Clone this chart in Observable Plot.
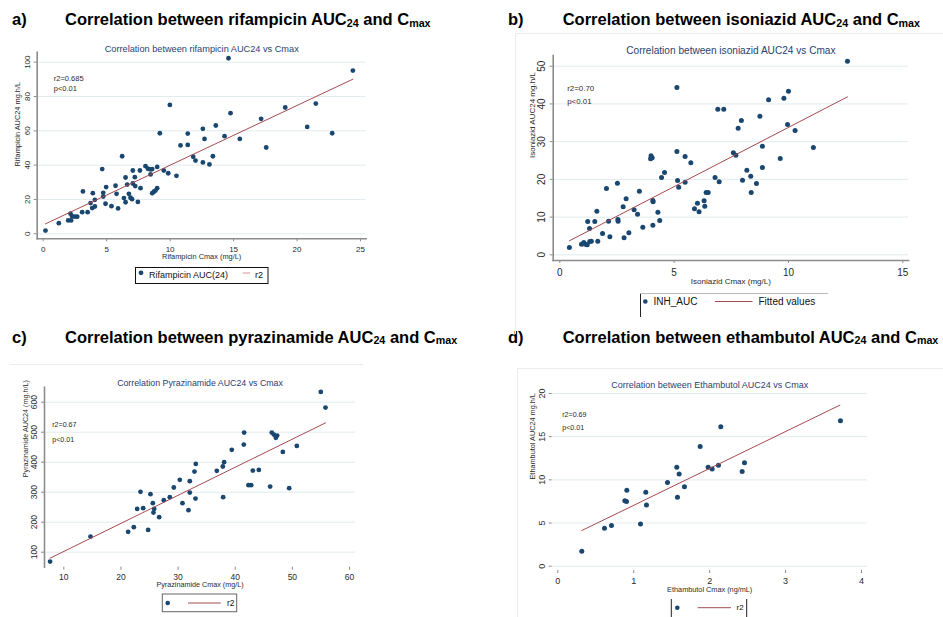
<!DOCTYPE html>
<html><head><meta charset="utf-8">
<script src="https://cdn.jsdelivr.net/npm/d3@7"></script>
<script src="https://cdn.jsdelivr.net/npm/@observablehq/plot@0.6"></script>
<style>
html,body{margin:0;padding:0;background:#fff;}
#root{position:relative;width:943px;height:617px;overflow:hidden;background:#fff;font-family:"Liberation Sans",Arial,Helvetica,sans-serif;}
.ttl{position:absolute;font-weight:bold;font-size:16.5px;line-height:1;white-space:nowrap;color:#000;}
.ttl sub{font-size:65%;vertical-align:baseline;position:relative;top:1.5px;}
.faint{position:absolute;border-color:#ececec;border-style:solid;border-width:0;}
</style></head>
<body><div id="root"></div>
<script>
// ---------- DATA ----------
// a) rifampicin
const rifCmax = [0.18,1.23,1.97,2.2,2.15,2.28,2.5,2.68,3.07,3.5,3.13,3.73,3.91,3.86,4.07,4.07,4.65,4.73,4.73,4.91,4.96,5.38,5.7,5.78,5.9,6.22,6.36,6.49,6.49,6.62,6.75,6.88,7.0,7.06,7.06,7.22,7.25,7.46,7.62,7.67,8.06,8.25,8.46,8.59,8.46,8.59,8.72,8.85,8.98,8.98,9.19,9.5,9.85,9.98,10.5,10.82,11.39,11.39,11.82,12.0,12.58,12.71,12.58,13.1,13.37,13.6,14.29,14.6,14.76,15.49,17.17,17.57,19.07,20.8,21.48,22.77,24.4];
const rifAuc = [1.9,6.2,7.8,7.8,11.7,10.1,10,10,12.6,12.6,24.7,17.9,23.7,15,15.9,19.8,37.7,23.9,21.7,17.5,27.2,16.1,28,23.3,14.8,45.2,20.8,18.4,32.8,28.7,23.3,21,20.2,29.3,36.9,33,27.8,18.6,36.9,26.6,39.4,37.9,37.5,37.7,34.6,23.7,24.5,25.2,26.6,39,58.6,36.9,35.3,75.1,33.8,51.5,58.4,51.8,44.9,42.7,61.2,55.3,41.6,40.4,45.2,63.1,56.9,102.3,70.3,55.3,67,50.3,73.6,62.3,75.9,58.6,95.1];
const rifFitX = [0.18, 24.4];
const rifFitY = [5.8, 90.1];
const rifXTicks = [0,5,10,15,20,25];
const rifYTicks = [0,20,40,60,80,100];

// b) isoniazid
const inhCmax = [0.42,0.95,1.05,1.12,1.2,1.31,1.38,1.22,1.3,1.53,1.62,1.66,1.87,2.04,2.13,2.19,2.52,2.54,2.55,2.77,2.81,2.9,3.02,3.25,3.4,3.48,3.63,3.97,3.99,4.04,4.07,4.08,4.07,4.29,4.37,4.45,4.58,5.12,5.12,5.15,5.2,5.48,5.48,5.73,5.89,6.02,6.09,6.31,6.34,6.4,6.49,6.79,6.91,6.97,7.17,7.59,7.7,7.8,7.94,7.99,8.18,8.35,8.37,8.6,8.75,8.86,8.86,9.13,9.64,9.8,9.96,10.0,10.29,11.09,12.58];
const inhAuc = [1.94,2.83,3.27,2.83,2.65,3.53,3.62,8.83,6.98,8.83,11.57,3.62,5.65,17.58,8.92,4.77,19,9.36,8.92,12.72,4.5,14.84,5.83,11.93,10.78,16.87,7.33,25.44,26.24,25.7,14.4,14.05,7.86,11.3,9.1,20.5,21.8,44.35,27.39,19.7,17.93,26.06,19.26,24.38,12.19,13.69,11.4,14.31,12.9,16.52,16.52,20.5,38.6,19.35,38.6,27.03,26.41,33.57,35.6,19.79,22.44,20.85,16.52,18.9,36.75,28.8,23.14,41.08,25.53,41.52,34.54,43.37,32.95,28.44,51.33];
const inhFitX = [0.42, 12.58];
const inhFitY = [3.71, 41.87];
const inhXTicks = [0,5,10,15];
const inhYTicks = [0,10,20,30,40,50];

// c) pyrazinamide
const pzaCmax = [7.6,14.67,21.26,22.25,22.84,23.42,23.89,24.76,25.17,25.58,25.81,25.69,26.69,27.5,28.55,29.25,30.3,30.77,31.82,32.05,32.05,32.87,33.05,33.1,36.78,37.83,37.89,38.06,39.4,41.5,41.56,42.32,42.79,43.08,44.13,46.11,46.4,46.76,47.11,47.34,48.33,49.44,50.78,54.98,55.8];
const pzaAuc = [68.9,152.2,167.8,183.3,244.4,301.1,246.7,174.4,293.3,263.3,244.4,232.2,216.7,273.3,283.3,315.6,341.1,263.3,240,336.7,298.9,368.9,278.9,394.4,371.1,385.6,283.3,400,441.1,458.9,498.9,323.3,323.3,372.2,374.4,318.9,498.9,492.2,481.1,488.9,434.4,313.3,454.4,634.4,582.2];
const pzaFitX = [7.6, 55.8];
const pzaFitY = [80, 531.1];
const pzaXTicks = [10,20,30,40,50,60];
const pzaYTicks = [100,200,300,400,500,600];

// d) ethambutol
const embCmax = [0.316,0.615,0.707,0.883,0.905,0.909,1.089,1.159,1.168,1.445,1.567,1.576,1.598,1.668,1.875,1.98,2.033,2.116,2.147,2.428,2.459,3.723];
const embAuc = [1.74,4.4,4.71,7.57,7.49,8.8,4.9,8.57,7.1,9.69,11.47,7.99,10.69,9.19,13.86,11.47,11.27,11.7,16.14,10.97,11.97,16.83];
const embFitX = [0.316, 3.715];
const embFitY = [4.13, 18.65];
const embXTicks = [0,1,2,3,4];
const embYTicks = [0,5,10,15,20];

// texts
const panelLetters = ["a)", "b)", "c)", "d)"];
const panelTitles = [
  "Correlation between rifampicin AUC<sub>24</sub> and C<sub>max</sub>",
  "Correlation between isoniazid AUC<sub>24</sub> and C<sub>max</sub>",
  "Correlation between pyrazinamide AUC<sub>24</sub> and C<sub>max</sub>",
  "Correlation between ethambutol AUC<sub>24</sub> and C<sub>max</sub>"
];
const subtitles = [
  "Correlation between rifampicin AUC24 vs Cmax",
  "Correlation between isoniazid AUC24 vs Cmax",
  "Correlation Pyrazinamide AUC24 vs Cmax",
  "Correlation between Ethambutol AUC24 vs Cmax"
];
const xTitles = ["Rifampicin Cmax (mg/L)", "Isoniazid Cmax (mg/L)", "Pyrazinamide Cmax (mg/L)", "Ethambutol Cmax (ng/mL)"];
const yTitles = ["Rifampicin AUC24 mg.h/L", "Isoniazid AUC24 mg.h/L", "Pyrazinamide AUC24 (mg.h/L)", "Ethambutol AUC24 mg.h/L"];
const r2Notes = ["r2=0.685", "r2=0.70", "r2=0.67", "r2=0.69"];
const pNotes = ["p<0.01", "p<0.01", "p<0.01", "p<0.01"];
const legendLabelsA = ["Rifampicin AUC(24)", "r2"];
const legendLabelsB = ["INH_AUC", "Fitted values"];
const legendLabelsC = ["", "r2"];
const legendLabelsD = ["", "r2"];

// ---------- STYLE ----------
const FONT = '"Liberation Sans", Arial, Helvetica, sans-serif';
const NAVY = "#1a476f", MAROON = "#a54a50", AXIS = "#8c8c8c", GRID = "#e2ebee", SUB = "#2b4170", TXT = "#2a2a2a";
const root = document.getElementById("root");
const fmt = d => String(d);

function addTitle(i, lx, tx, top) {
  const a = document.createElement("div");
  a.className = "ttl"; a.style.left = lx + "px"; a.style.top = top + "px";
  a.textContent = panelLetters[i];
  root.appendChild(a);
  const t = document.createElement("div");
  t.className = "ttl"; t.style.left = tx + "px"; t.style.top = top + "px";
  t.innerHTML = panelTitles[i];
  root.appendChild(t);
}
addTitle(0, 12, 65, 11);
addTitle(1, 508, 562.7, 11);
addTitle(2, 12, 65, 328.6);
addTitle(3, 508, 562.7, 328.6);

function faint(l, t, w, h, sides) {
  const d = document.createElement("div");
  d.className = "faint";
  Object.assign(d.style, {left: l + "px", top: t + "px", width: w + "px", height: h + "px"});
  for (const s of sides) d.style["border" + s + "Width"] = "1px";
  root.appendChild(d);
}
faint(515, 33, 428, 300, ["Left", "Top"]);
faint(10, 364, 353, 260, ["Top"]);
faint(516.7, 368.3, 430, 260, ["Left", "Top"]);

function panel(i, p, X, Y, fitX, fitY, xTicks, yTicks) {
  const marks = [
    Plot.gridY(yTicks, {stroke: GRID, strokeOpacity: 1, strokeWidth: 1})
  ];
  if (p.yLine) marks.push(Plot.frame({anchor: "left", stroke: AXIS, strokeWidth: 1.6}));
  if (p.xLine) marks.push(Plot.frame({anchor: "bottom", stroke: AXIS, strokeWidth: 1.6}));
  marks.push(
    Plot.axisY({ticks: yTicks, tickFormat: fmt, tickSize: 3, tickPadding: p.yPad, tickRotate: -90, fontSize: p.tickFs, stroke: AXIS, fill: TXT, label: null}),
    Plot.axisX({ticks: xTicks, tickFormat: fmt, tickSize: 3, tickPadding: p.xPad, fontSize: p.tickFs, stroke: AXIS, fill: TXT, label: null}),
    Plot.dot(Y, {x: X, y: Y, r: p.r, fill: NAVY, stroke: null}),
    Plot.line(fitY, {x: fitX, y: fitY, stroke: MAROON, strokeWidth: 1}),
    Plot.text([subtitles[i]], {frameAnchor: "top", dy: -p.subDy, fontSize: p.subFs, fill: SUB}),
    Plot.text([xTitles[i]], {frameAnchor: "bottom", dy: p.xtDy, fontSize: p.titleFs, fill: TXT}),
    Plot.text([yTitles[i]], {frameAnchor: "left", dx: -p.ytDx, dy: p.ytDy, rotate: -90, fontSize: p.titleFs, fill: TXT}),
    Plot.text([r2Notes[i]], {frameAnchor: "top-left", dx: p.noteDx, dy: p.noteDy[0], textAnchor: "start", fontSize: p.noteFs, fill: TXT}),
    Plot.text([pNotes[i]], {frameAnchor: "top-left", dx: p.noteDx, dy: p.noteDy[1], textAnchor: "start", fontSize: p.noteFs, fill: TXT})
  );
  const svg = Plot.plot({
    width: p.w, height: p.h,
    marginLeft: p.fx[0] - p.left, marginRight: p.left + p.w - p.fx[1],
    marginTop: p.fy[0] - p.top, marginBottom: p.top + p.h - p.fy[1],
    x: {domain: p.xDom, insetLeft: p.xPix[0] - p.fx[0], insetRight: p.fx[1] - p.xPix[1]},
    y: {domain: p.yDom, insetTop: p.yPix[1] - p.fy[0], insetBottom: p.fy[1] - p.yPix[0]},
    style: {fontFamily: FONT, background: "transparent", overflow: "visible"},
    marks
  });
  svg.style.position = "absolute";
  svg.style.left = p.left + "px";
  svg.style.top = p.top + "px";
  root.appendChild(svg);
}

panel(0, {left: 0, top: 30, w: 380, h: 240, fx: [36.7, 365.7], fy: [51.7, 238.3], xDom: [0, 25], xPix: [42.7, 360], yDom: [0, 100], yPix: [233.3, 61.7],
  tickFs: 8, yPad: 4, xPad: 4.5, r: 2.4, subFs: 9.2, subDy: 6.7, titleFs: 7.4, xtDy: 20.6, ytDx: 19.7, ytDy: 21, noteFs: 7.5, noteDx: 16.6, noteDy: [23.3, 33.3], yLine: true, xLine: true},
  rifCmax, rifAuc, rifFitX, rifFitY, rifXTicks, rifYTicks);
panel(1, {left: 470, top: 30, w: 473, h: 262, fx: [552.7, 908], fy: [55, 260], xDom: [0, 15], xPix: [559.3, 902.3], yDom: [0, 50], yPix: [254.3, 65.7],
  tickFs: 10, yPad: 5, xPad: 5.5, r: 2.5, subFs: 10.1, subDy: 8.3, titleFs: 8, xtDy: 23.5, ytDx: 21, ytDy: 0, noteFs: 7.9, noteDx: 14, noteDy: [30, 43], yLine: true, xLine: true},
  inhCmax, inhAuc, inhFitX, inhFitY, inhXTicks, inhYTicks);
panel(2, {left: 0, top: 360, w: 380, h: 240, fx: [44, 355], fy: [386.7, 566.7], xDom: [10, 60], xPix: [63.3, 349], yDom: [100, 600], yPix: [551.7, 401.7],
  tickFs: 8.5, yPad: 4.6, xPad: 3.6, r: 2.4, subFs: 8.8, subDy: 7.4, titleFs: 7.2, xtDy: 19.8, ytDx: 19, ytDy: 0, noteFs: 7.1, noteDx: 7.7, noteDy: [35, 49.6], yLine: true, xLine: false},
  pzaCmax, pzaAuc, pzaFitX, pzaFitY, pzaXTicks, pzaYTicks);
panel(3, {left: 470, top: 360, w: 473, h: 240, fx: [551.7, 866.7], fy: [388, 570], xDom: [0, 4], xPix: [557.3, 861], yDom: [0, 20], yPix: [565.7, 393],
  tickFs: 9, yPad: 4.7, xPad: 4.3, r: 2.5, subFs: 9, subDy: 7, titleFs: 7.3, xtDy: 21.6, ytDx: 20, ytDy: 0, noteFs: 7.1, noteDx: 10, noteDy: [23.7, 36.3], yLine: false, xLine: false},
  embCmax, embAuc, embFitX, embFitY, embXTicks, embYTicks);

// ---------- LEGENDS ----------
function legendSvg(left, top, w, h) {
  const s = d3.select(root).append("svg")
    .attr("width", w).attr("height", h)
    .style("position", "absolute").style("left", left + "px").style("top", top + "px")
    .style("overflow", "visible").style("font-family", FONT);
  return s;
}
// a
{
  const s = legendSvg(135, 267, 134, 18);
  s.append("rect").attr("x", 0.5).attr("y", 0.5).attr("width", 132.5).attr("height", 16).attr("fill", "none").attr("stroke", "#111");
  s.append("circle").attr("cx", 6).attr("cy", 5.8).attr("r", 2.4).attr("fill", NAVY);
  s.append("text").attr("x", 14).attr("y", 9).attr("dominant-baseline", "middle").attr("font-size", 9).attr("fill", "#111").text(legendLabelsA[0]);
  s.append("line").attr("x1", 107.7).attr("x2", 115).attr("y1", 6).attr("y2", 6).attr("stroke", "#dba5a8").attr("stroke-width", 1.2);
  s.append("text").attr("x", 120).attr("y", 9).attr("dominant-baseline", "middle").attr("font-size", 9).attr("fill", "#111").text(legendLabelsA[1]);
}
// b
{
  const s = legendSvg(636, 290, 210, 27);
  s.append("line").attr("x1", 4.5).attr("x2", 4.5).attr("y1", 3.5).attr("y2", 27).attr("stroke", "#222");
  s.append("line").attr("x1", 4.5).attr("x2", 192).attr("y1", 3.5).attr("y2", 3.5).attr("stroke", "#bbb");
  s.append("circle").attr("cx", 9.3).attr("cy", 11.5).attr("r", 2.3).attr("fill", NAVY);
  s.append("text").attr("x", 17.5).attr("y", 12).attr("dominant-baseline", "middle").attr("font-size", 10).attr("fill", "#111").text(legendLabelsB[0]);
  s.append("line").attr("x1", 79).attr("x2", 116.5).attr("y1", 11.5).attr("y2", 11.5).attr("stroke", MAROON).attr("stroke-width", 1);
  s.append("text").attr("x", 122.5).attr("y", 12).attr("dominant-baseline", "middle").attr("font-size", 10).attr("fill", "#111").text(legendLabelsB[1]);
}
// c
{
  const s = legendSvg(160, 592, 80, 22);
  s.append("rect").attr("x", 2.3).attr("y", 2).attr("width", 74.4).attr("height", 17.7).attr("fill", "none").attr("stroke", "#666");
  s.append("circle").attr("cx", 7.7).attr("cy", 11).attr("r", 2.3).attr("fill", NAVY);
  s.append("line").attr("x1", 28).attr("x2", 60.7).attr("y1", 11).attr("y2", 11).attr("stroke", MAROON).attr("stroke-width", 1);
  s.append("text").attr("x", 67).attr("y", 11.5).attr("dominant-baseline", "middle").attr("font-size", 8.5).attr("fill", "#111").text(legendLabelsC[1]);
}
// d
{
  const s = legendSvg(668, 597, 82, 20);
  s.append("line").attr("x1", 3.3).attr("x2", 3.3).attr("y1", 2).attr("y2", 20).attr("stroke", "#222");
  s.append("line").attr("x1", 78.7).attr("x2", 78.7).attr("y1", 2).attr("y2", 20).attr("stroke", "#222");
  s.append("circle").attr("cx", 9.3).attr("cy", 10.7).attr("r", 2.3).attr("fill", NAVY);
  s.append("line").attr("x1", 29.7).attr("x2", 63).attr("y1", 10.7).attr("y2", 10.7).attr("stroke", MAROON).attr("stroke-width", 1);
  s.append("text").attr("x", 68.5).attr("y", 11.2).attr("dominant-baseline", "middle").attr("font-size", 8).attr("fill", "#111").text(legendLabelsD[1]);
}
</script>
</body></html>
